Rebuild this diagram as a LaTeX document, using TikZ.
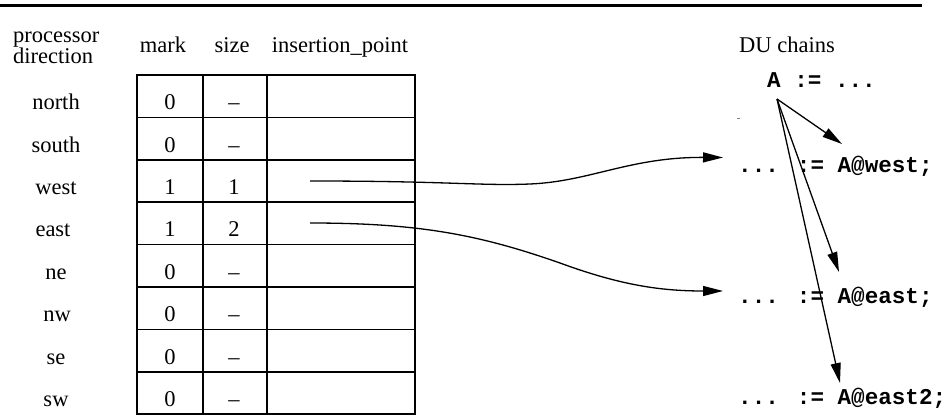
\documentclass[tikz,border=0pt]{standalone}
\usepackage{fontspec}
\setmainfont{Liberation Serif}
\newfontfamily\codefont{Liberation Mono}
\usetikzlibrary{arrows.meta}
\begin{document}
\begin{tikzpicture}[x=1pt,y=-1pt,
  lbl/.style={font=\fontsize{22.5}{24}\selectfont, inner sep=0pt, anchor=base},
  hdr/.style={font=\fontsize{22.5}{24}\selectfont, inner sep=0pt, anchor=base west},
  code/.style={font=\codefont\bfseries\fontsize{22.6}{24}\selectfont, inner sep=0pt, anchor=base west},
  gridline/.style={line width=1.6pt},
  conn/.style={line width=1.3pt, -{Triangle[length=20pt,width=10pt]}},
  rule/.style={line width=3pt}]
\useasboundingbox (0,0) rectangle (952,417);
% top rule
\draw[rule] (0,5.5) -- (922,5.5);
% headers
\node[hdr] (hproc) at (13,43) {processor};
\node[hdr] (hdir) at (13,64) {direction};
\node[lbl] (hmark) at (163,53) {mark};
\node[lbl] (hsize) at (232,53) {size};
\node[lbl] (hins) at (340,53) {insertion\_point};
\node[lbl] (hdu) at (787,53) {DU chains};
% table
\draw[gridline] (137,75) rectangle (415,414.2);
\draw[gridline] (203,75) -- (203,414.2);
\draw[gridline] (267,75) -- (267,414.2);
\foreach \k in {1,...,7}{
  \pgfmathsetmacro{\yy}{75+42.4*\k}
  \draw[gridline] (137,\yy) -- (415,\yy);
}
\foreach \nm/\lab/\lx/\m/\s [count=\i] in {
  north/north/56/0/\textendash,
  south/south/56/0/\textendash,
  west/west/56/1/1,
  east/east/53/1/2,
  ne/ne/56/0/\textendash,
  nw/nw/57/0/\textendash,
  se/se/56/0/\textendash,
  sw/sw/56/0/\textendash}{
  \pgfmathsetmacro{\yb}{109.7+42.4*(\i-1)}
  \node[lbl] (r\nm) at (\lx,\yb) {\lab};
  \node[lbl] (m\nm) at (170,\yb) {\m};
  \node[lbl] (s\nm) at (234,\yb) {\s};
}
% DU chain code
\node[code] (defA) at (767,88) {A := ...};
\node[code] (useW) at (738,172) {... := A@west;};
\node[code] (useE) at (738,303) {... := A@east;};
\node[code] (useEE) at (738,404) {... := A@east2;};
% stray mark
\draw[gray, line width=0.8pt] (737,118.5) -- (739.5,118.5);
% coordinates
\coordinate (wstart) at (310,181);
\coordinate (estart) at (310,223);
\coordinate (wend) at (723,157.5);
\coordinate (eend) at (723,291);
\coordinate (aS) at (777,99);
\coordinate (tW) at (842,144);
\coordinate (tE) at (839,272);
\coordinate (tEE) at (840,383);
% connectors
\draw[conn] (wstart) .. controls (450,181) and (480,186) .. (530,184)
  .. controls (590,181.5) and (630,157) .. (wend);
\draw[conn] (estart) .. controls (420,223) and (480,235) .. (560,263)
  .. controls (620,285) and (660,291) .. (eend);
\draw[conn] (aS) -- (tW);
\draw[conn] (aS) -- (tE);
\draw[conn] (aS) -- (tEE);
\end{tikzpicture}
\end{document}
